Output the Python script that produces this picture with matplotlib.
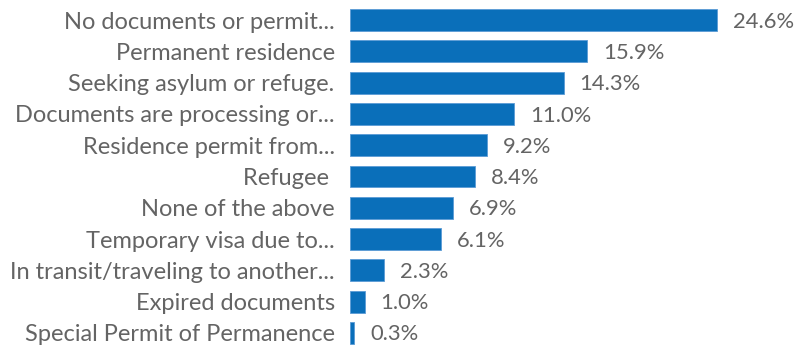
import matplotlib

matplotlib.use("Agg")

import matplotlib.pyplot as plt

plt.rcParams["font.family"] = ["Lato", "DejaVu Sans"]

CATEGORIES = [
    "No documents or permit...",
    "Permanent residence",
    "Seeking asylum or refuge.",
    "Documents are processing or...",
    "Residence permit from...",
    "Refugee ",
    "None of the above",
    "Temporary visa due to...",
    "In transit/traveling to another...",
    "Expired documents",
    "Special Permit of Permanence",
]
SHARES = [24.6, 15.9, 14.3, 11.0, 9.2, 8.4, 6.9, 6.1, 2.3, 1.0, 0.3]

BAR_COLOR = "#0A6FBA"
TEXT_COLOR = "#646464"

fig = plt.figure(figsize=(7.95, 3.47), dpi=100)
ax = fig.add_axes([350 / 795, -1.5 / 347, 445 / 795, 344 / 347])

y = list(range(len(CATEGORIES)))
ax.barh(y, SHARES, height=0.7, color=BAR_COLOR, edgecolor="#5B9BD5", linewidth=0.6)
ax.set_ylim(len(CATEGORIES) - 0.5, -0.5)
ax.set_xlim(0, 29.8)

for i, v in enumerate(SHARES):
    ax.text(v + 1.05, i + 0.05, f"{v:.1f}%", va="center", ha="left",
            fontsize=15.8, color=TEXT_COLOR)

ax.set_yticks(y)
ax.set_yticklabels(CATEGORIES, fontsize=17, color=TEXT_COLOR)
ax.tick_params(axis="y", length=0, pad=11)
ax.set_xticks([])
for side in ax.spines.values():
    side.set_visible(False)

fig.savefig("out.png", dpi=100)
